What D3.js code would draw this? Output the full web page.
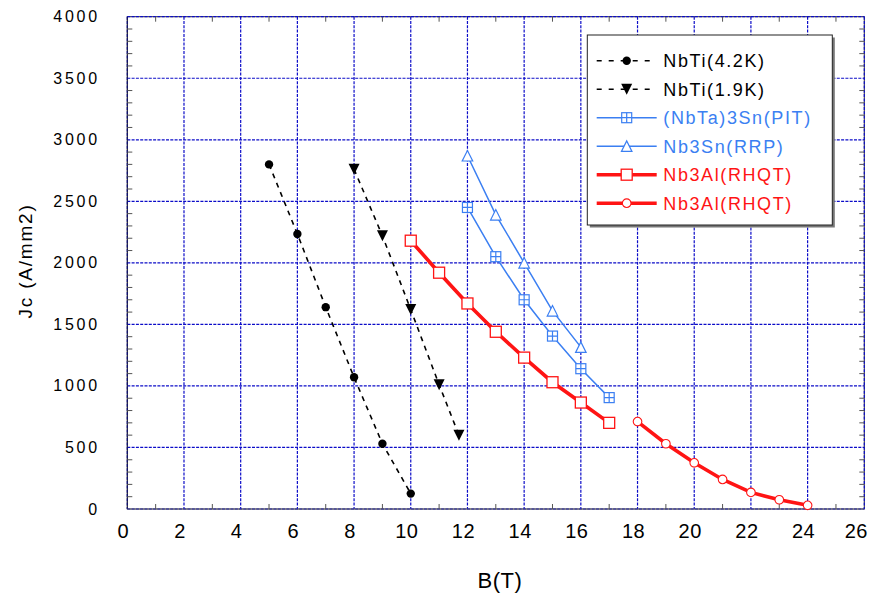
<!DOCTYPE html>
<html><head><meta charset="utf-8">
<script src="https://cdn.jsdelivr.net/npm/d3@7"></script>
<style>
html,body{margin:0;padding:0;background:#fff;}
text{font-family:"Liberation Sans",Arial,sans-serif;}
</style></head>
<body>
<svg id="c" width="869" height="593"></svg>
<script>
// ---- data ----
const xTicks = [0,2,4,6,8,10,12,14,16,18,20,22,24,26];
const yTicks = [0,500,1000,1500,2000,2500,3000,3500,4000];

const nbti42B  = [5,6,7,8,9,10];
const nbti42Jc = [2800,2235,1640,1070,530,125];

const nbti19B  = [8,9,10,11,11.7];
const nbti19Jc = [2760,2220,1620,1010,600];

const pitB  = [12,13,14,15,16,17];
const pitJc = [2450,2050,1700,1405,1140,905];

const rrpB  = [12,13,14,15,16];
const rrpJc = [2870,2390,2000,1610,1315];

const alSqB  = [10,11,12,13,14,15,16,17];
const alSqJc = [2180,1920,1670,1440,1230,1030,865,700];

const alCiB  = [18,19,20,21,22,23,24];
const alCiJc = [710,530,375,240,135,75,30];

const legendLabels = ["NbTi(4.2K)","NbTi(1.9K)","(NbTa)3Sn(PIT)","Nb3Sn(RRP)","Nb3Al(RHQT)","Nb3Al(RHQT)"];

// ---- layout ----
const L=127.3, R=864.3, T=16.7, B=509;
const svg = d3.select("#c");
const x = d3.scaleLinear().domain([0,26]).range([L,R]);
const y = d3.scaleLinear().domain([0,4000]).range([B,T]);

const BLUE="#3b7ff2", RED="#ff1414";

// frame
svg.append("rect").attr("x",L).attr("y",T).attr("width",R-L).attr("height",B-T)
  .attr("fill","none").attr("stroke","#333").attr("stroke-width",1);

// grid
const g = svg.append("g");
g.selectAll(".gx").data(xTicks).join("line")
  .attr("x1",d=>x(d)).attr("x2",d=>x(d)).attr("y1",T).attr("y2",B)
  .attr("stroke","#0c0cc8").attr("stroke-width",1.2).attr("stroke-dasharray","3,1.3");
g.selectAll(".gy").data(yTicks).join("line")
  .attr("y1",d=>y(d)).attr("y2",d=>y(d)).attr("x1",L).attr("x2",R)
  .attr("stroke","#0c0cc8").attr("stroke-width",1.2).attr("stroke-dasharray","3,1.3");
// left / bottom solid spines
svg.append("line").attr("x1",L).attr("x2",L).attr("y1",T).attr("y2",B).attr("stroke","#111").attr("stroke-width",1).attr("opacity",0.6);
svg.append("line").attr("x1",L).attr("x2",R).attr("y1",B).attr("y2",B).attr("stroke","#666").attr("stroke-width",1).attr("opacity",0.6);

// minor ticks
const xMinor = d3.range(1,26,2);
const yMinor = d3.range(100,4000,100).filter(v=>v%500!==0);
const tk = svg.append("g").attr("stroke","#555").attr("stroke-width",1);
xMinor.forEach(v=>{
  tk.append("line").attr("x1",x(v)).attr("x2",x(v)).attr("y1",B).attr("y2",B-5);
  tk.append("line").attr("x1",x(v)).attr("x2",x(v)).attr("y1",T).attr("y2",T+5);
});
yMinor.forEach(v=>{
  tk.append("line").attr("x1",L).attr("x2",L+5).attr("y1",y(v)).attr("y2",y(v));
  tk.append("line").attr("x1",R).attr("x2",R-5).attr("y1",y(v)).attr("y2",y(v));
});

// axis labels
svg.append("g").selectAll("text").data(xTicks).join("text")
  .attr("x",d=>d===26 ? 868 : x(d)-4).attr("y",538)
  .attr("text-anchor",d=>d===26 ? "end" : "middle")
  .attr("font-size",20).attr("letter-spacing","0.5px").attr("fill","#000").text(d=>d);
svg.append("g").selectAll("text").data(yTicks).join("text")
  .attr("x",100).attr("y",d=>y(d)+5.5).attr("text-anchor","end")
  .attr("font-size",16).attr("letter-spacing","2.8px").attr("fill","#000").text(d=>d);
svg.append("text").attr("transform","translate(32,261) rotate(-90)")
  .attr("text-anchor","middle").attr("font-size",19).attr("letter-spacing","1.8px")
  .attr("fill","#000").text("Jc (A/mm2)");
svg.append("text").attr("x",500).attr("y",588).attr("text-anchor","middle")
  .attr("font-size",22).attr("letter-spacing","0.5px").attr("fill","#000").text("B(T)");

// markers
function triDown(s){return `M${-s/2},${-s/2}L${s/2},${-s/2}L0,${s/2}Z`;}
function triUp(s){return `M${-s/2},${s/2}L${s/2},${s/2}L0,${-s/2}Z`;}
function drawMarker(sel, type){
  if(type==="dot") sel.append("circle").attr("r",4.2).attr("fill","#000");
  else if(type==="tdown") sel.append("path").attr("d",triDown(11)).attr("fill","#000");
  else if(type==="sqx"){
    sel.append("rect").attr("x",-5).attr("y",-5).attr("width",10).attr("height",10).attr("fill","#fff").attr("stroke",BLUE).attr("stroke-width",1.2);
    sel.append("path").attr("d","M0,-5V5M-5,0H5").attr("stroke",BLUE).attr("stroke-width",1.2);
  } else if(type==="tup") sel.append("path").attr("d",triUp(10.5)).attr("fill","#fff").attr("stroke",BLUE).attr("stroke-width",1.2);
  else if(type==="sq") sel.append("rect").attr("x",-5.5).attr("y",-5.5).attr("width",11).attr("height",11).attr("fill","#fff").attr("stroke",RED).attr("stroke-width",1.3);
  else if(type==="ci") sel.append("circle").attr("r",4.3).attr("fill","#fff").attr("stroke",RED).attr("stroke-width",1.1);
}

const series = [
  {bx:nbti42B, jy:nbti42Jc, color:"#000", w:1.6, dash:"5,5", m:"dot", tc:"#000"},
  {bx:nbti19B, jy:nbti19Jc, color:"#000", w:1.6, dash:"5,5", m:"tdown", tc:"#000"},
  {bx:pitB, jy:pitJc, color:BLUE, w:1.5, dash:null, m:"sqx", tc:BLUE},
  {bx:rrpB, jy:rrpJc, color:BLUE, w:1.5, dash:null, m:"tup", tc:BLUE},
  {bx:alSqB, jy:alSqJc, color:RED, w:3.6, dash:null, m:"sq", tc:RED},
  {bx:alCiB, jy:alCiJc, color:RED, w:3.6, dash:null, m:"ci", tc:RED}
];
const line = d3.line().x(d=>x(d[0])).y(d=>y(d[1]));
const plot = svg.append("g");
series.forEach(s=>{
  const pts = s.bx.map((b,i)=>[b,s.jy[i]]);
  plot.append("path").attr("d",line(pts)).attr("fill","none").attr("stroke",s.color)
    .attr("stroke-width",s.w).attr("stroke-dasharray",s.dash);
});
series.forEach(s=>{
  const pts = s.bx.map((b,i)=>[b,s.jy[i]]);
  pts.forEach(p=>{
    const mg = plot.append("g").attr("transform",`translate(${x(p[0])},${y(p[1])})`);
    drawMarker(mg, s.m);
  });
});

// legend
const lx=587.3, ly=35, lw=245, lh=190;
svg.append("rect").attr("x",lx+2.5).attr("y",ly+2.5).attr("width",lw).attr("height",lh).attr("fill","#777");
svg.append("rect").attr("x",lx).attr("y",ly).attr("width",lw).attr("height",lh).attr("fill","#fff").attr("stroke","#222").attr("stroke-width",1);
series.forEach((s,i)=>{
  const cy = 60.7 + i*28.5;
  const lg = svg.append("g");
  lg.append("line").attr("x1",596.7).attr("x2",656.7).attr("y1",cy).attr("y2",cy)
    .attr("stroke",s.color).attr("stroke-width",s.w===3.6?3.6:1.5)
    .attr("stroke-dasharray",s.dash?"5,7":null);
  const mg = lg.append("g").attr("transform",`translate(626.7,${cy})`);
  drawMarker(mg, s.m);
  lg.append("text").attr("x",663.3).attr("y",cy+6.5).attr("font-size",18)
    .attr("letter-spacing","1.6px").attr("fill",s.tc).text(legendLabels[i]);
});
</script>
</body></html>
